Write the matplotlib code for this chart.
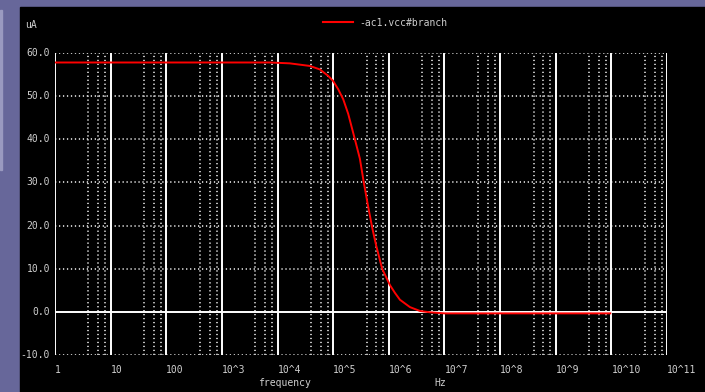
import numpy as np
import matplotlib
matplotlib.use("Agg")
import matplotlib.pyplot as plt
from matplotlib.patches import Rectangle

# ------ datos ------
log_freq = [0, 1, 2, 3, 3.86, 4.22, 4.58, 4.76, 4.91, 5.0, 5.09, 5.18, 5.27,
            5.39, 5.48, 5.55, 5.62, 5.70, 5.77, 5.88, 6.02, 6.11, 6.20, 6.38,
            6.56, 6.74, 7.0, 8.0, 9.0, 9.98]
corriente = [57.8, 57.8, 57.8, 57.8, 57.8, 57.6, 57.0, 56.2, 54.7, 53.5, 51.6,
             49.3, 45.9, 40.0, 35.5, 30.0, 25.0, 19.6, 15.5, 10.0, 6.2, 4.4,
             2.8, 1.1, 0.2, -0.1, -0.35, -0.35, -0.35, -0.35]
freq = [10 ** v for v in log_freq]

yticks = [-10, 0, 10, 20, 30, 40, 50, 60]
ytick_labels = ["-10.0", "0.0", "10.0", "20.0", "30.0", "40.0", "50.0", "60.0"]
xticks = [10 ** k for k in range(12)]
xtick_labels = ["1", "10", "100"] + ["10^%d" % k for k in range(3, 12)]

fondo = "#67679a"
texto = "#cfcfcf"
fuente = "DejaVu Sans Mono"

W, H = 705, 392
fig = plt.figure(figsize=(W / 100, H / 100), dpi=100, facecolor=fondo)
# ventana negra del plot
fig.patches.append(Rectangle((20 / W, 0), 1 - 20 / W, (H - 7) / H,
                             transform=fig.transFigure, color="black", zorder=-1))
fig.patches.append(Rectangle((0, (H - 170) / H), 2 / W, 160 / H,
                             transform=fig.transFigure, color="#9a9ac0", zorder=-1))

ax = fig.add_axes([55 / W, 37 / H, (667 - 55) / W, (355 - 53) / H])
ax.set_zorder(1)
ax.set_facecolor("black")
ax.set_xscale("log")
ax.set_xlim(1, 1e11)
ax.set_ylim(-10, 60)
for s in ax.spines.values():
    s.set_visible(False)
ax.set_xticks([])
ax.set_yticks([])
ax.minorticks_off()

punteado = (0, (0.7, 1.5))
# grilla vertical
for k in range(11):
    for m in (4, 6, 8):
        ax.axvline(m * 10 ** k, color="#d0d0d0", lw=1.3, ls=punteado, zorder=1)
for x in xticks:
    ax.axvline(x, color="white", lw=1.4, zorder=2)
# grilla horizontal
for y in yticks:
    if y == 0:
        ax.axhline(y, color="white", lw=1.4, zorder=2)
    else:
        ax.axhline(y, color="#d0d0d0", lw=1.3, ls=punteado, zorder=1)

ax.plot(freq, corriente, color="#ff0000", lw=1.4, zorder=3)

# etiquetas
for y, lab in zip(yticks, ytick_labels):
    ax.annotate(lab, (1, y), xytext=(-5, 0), textcoords="offset pixels",
                ha="right", va="center", color=texto, family=fuente, fontsize=7,
                annotation_clip=False)
for x, lab in zip(xticks, xtick_labels):
    ax.annotate(lab, (x, -10), xytext=(0, -15), textcoords="offset pixels",
                ha="left", va="center", color=texto, family=fuente, fontsize=7,
                annotation_clip=False)

fig.text(25 / W, 1 - 25 / H, "uA", color=texto, family=fuente, fontsize=7,
         va="center")
fig.text(258 / W, 1 - 383 / H, "frequency", color=texto, family=fuente,
         fontsize=7, va="center")
fig.text(434 / W, 1 - 383 / H, "Hz", color=texto, family=fuente, fontsize=7,
         va="center")
fig.lines.append(plt.Line2D([323 / W, 353 / W], [1 - 22 / H, 1 - 22 / H],
                            transform=fig.transFigure, color="#ff0000", lw=1.5))
fig.text(359 / W, 1 - 23 / H, "-ac1.vcc#branch", color=texto, family=fuente,
         fontsize=7, va="center")

fig.savefig("out.png", dpi=100, facecolor=fondo)
